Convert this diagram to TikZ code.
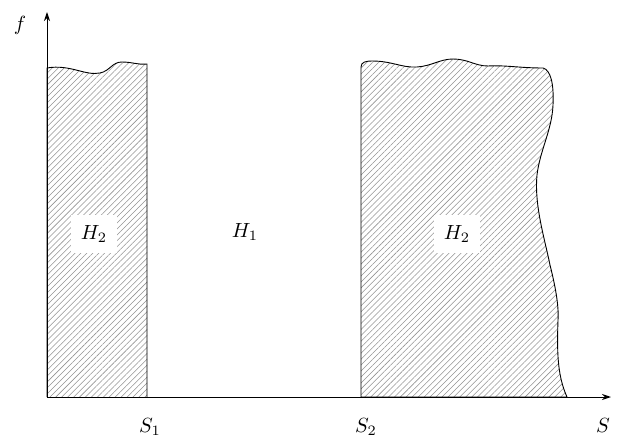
\documentclass[tikz,border=0pt]{standalone}
\usetikzlibrary{arrows.meta, patterns.meta}

\begin{document}
\begin{tikzpicture}[
x=1pt, y=-1pt,
>={Stealth[length=9pt,width=6pt]},
every node/.style={scale=2.05},
hatch/.style={pattern={Lines[angle=45,distance=4.2pt,line width=0.55pt]},pattern color=gray!85},
lbl/.style={fill=white,inner sep=5pt}
]
\useasboundingbox (0,0) rectangle (621,441);

% hatched regions
\filldraw[hatch,line width=0.9pt] (47,397) -- (47,68)
  .. controls (70,64) and (85,76) .. (100,73)
  .. controls (110,71) and (112,62) .. (122,62)
  .. controls (132,62) and (138,65) .. (147,64) -- (147,397);
\filldraw[hatch,line width=0.9pt] (361,397) -- (361,67)
  .. controls (361,62) and (366,61) .. (372,61)
  .. controls (392,61) and (402,68) .. (417,67)
  .. controls (432,66) and (440,59) .. (453,59)
  .. controls (468,59) and (475,66) .. (488,66)
  .. controls (505,65) and (520,68) .. (543,68)
  .. controls (551,70) and (554,85) .. (553,105)
  .. controls (552,130) and (540,150) .. (537,175)
  .. controls (534,205) and (545,240) .. (550,265)
  .. controls (555,285) and (559,305) .. (558,320)
  .. controls (557,350) and (557,375) .. (567,397) -- cycle;

% axes
\coordinate (o) at (47,397);
\coordinate (fend) at (47,12);
\coordinate (send) at (611,397);
\draw[->,line width=1pt] (o) -- (fend);
\draw[->,line width=1pt] (o) -- (send);

% labels
\node (f) at (20,25) {$f$};
\node (s) at (603,425) {$S$};
\node (s1) at (150,427) {$S_1$};
\node (s2) at (366,427) {$S_2$};
\node[lbl] (h2a) at (94,234) {$H_2$};
\node (h1) at (245,232) {$H_1$};
\node[lbl] (h2b) at (457,234) {$H_2$};
\end{tikzpicture}
\end{document}
